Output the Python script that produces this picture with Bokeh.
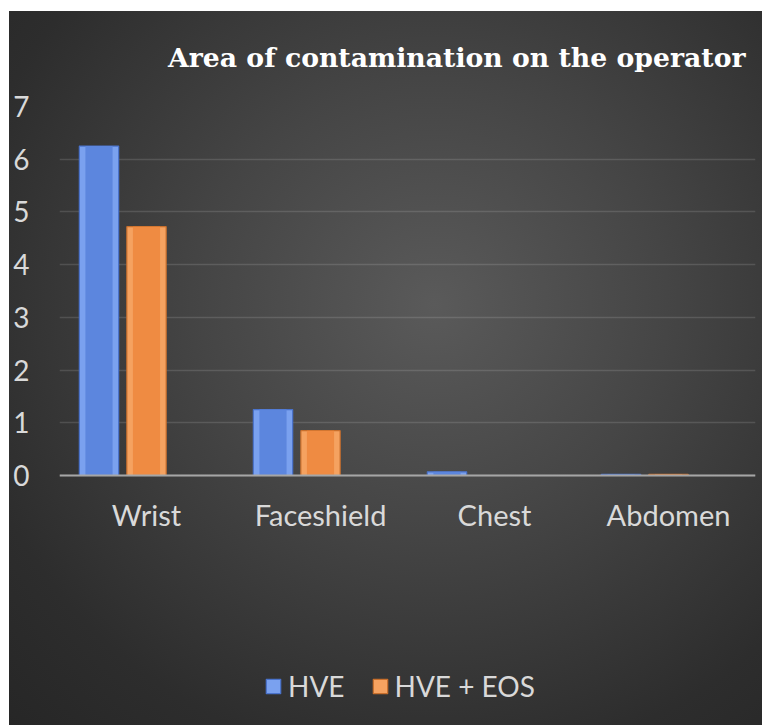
from bokeh.plotting import figure
from bokeh.models import Range1d, FactorRange, Legend, LegendItem, Title, ColumnDataSource, FixedTicker
from bokeh.transform import dodge
from bokeh.embed import file_html
from bokeh.resources import INLINE

categories = ["Wrist", "Faceshield", "Chest", "Abdomen"]
series = ["HVE", "HVE + EOS"]
hve = [6.25, 1.25, 0.07, 0.02]
hve_eos = [4.72, 0.85, 0.0, 0.02]
y_ticks = [0, 1, 2, 3, 4, 5, 6, 7]
title_text = "Area of contamination on the operator"

src = ColumnDataSource(dict(cat=categories, hve=hve, eos=hve_eos))

FONT = "Lato"
LABEL_COLOR = "#d9d9d9"

p = figure(width=762, height=725, output_backend="svg", toolbar_location=None,
           x_range=FactorRange(*categories, range_padding=0),
           y_range=Range1d(-4.743, 7),
           min_border_left=59, min_border_right=7, min_border_top=106, min_border_bottom=0)

p.background_fill_alpha = 0
p.border_fill_alpha = 0
p.outline_line_color = None
p.styles = {"background":
            "linear-gradient(to right, #ffffff 9px, transparent 9px), "
            "linear-gradient(to bottom, #ffffff 11px, transparent 11px), "
            "radial-gradient(ellipse farthest-corner at 57% 42%, #5a5a5a 0%, #454545 38%, #2d2d2d 78%, #262626 100%)"}

# bars (outer bevel + inner face)
r1 = p.vbar(x=dodge("cat", -0.273, range=p.x_range), top="hve", width=0.226, source=src,
            fill_color="#7aa1ef", line_color="#4a73cc", line_width=1.2)
p.vbar(x=dodge("cat", -0.273, range=p.x_range), top="hve", width=0.156, source=src,
       fill_color="#5c86de", line_color=None)
r2 = p.vbar(x=dodge("cat", 0.0, range=p.x_range), top="eos", width=0.226, source=src,
            fill_color="#f5a260", line_color="#c86f2c", line_width=1.2)
p.vbar(x=dodge("cat", 0.0, range=p.x_range), top="eos", width=0.156, source=src,
       fill_color="#ef8b42", line_color=None)

# axes
p.yaxis.ticker = FixedTicker(ticks=y_ticks)
p.yaxis.axis_line_color = None
p.yaxis.major_tick_line_color = None
p.yaxis.minor_tick_line_color = None
p.yaxis.major_label_standoff = 24
p.yaxis.major_label_text_font = FONT
p.yaxis.major_label_text_font_size = "28px"
p.yaxis.major_label_text_color = LABEL_COLOR

p.xaxis.fixed_location = 0
p.xaxis.axis_line_color = "#a6a6a6"
p.xaxis.axis_line_width = 2
p.xaxis.major_tick_line_color = None
p.xaxis.minor_tick_line_color = None
p.xaxis.major_label_standoff = 16
p.xaxis.major_label_text_font = FONT
p.xaxis.major_label_text_font_size = "29px"
p.xaxis.major_label_text_color = LABEL_COLOR

p.xgrid.grid_line_color = None
p.ygrid.grid_line_color = "#ffffff"
p.ygrid.grid_line_alpha = 0.13
p.ygrid.grid_line_width = 1.5

# title
t = Title(text=title_text, align="right", text_font="DejaVu Serif", text_font_style="bold",
          text_font_size="26.7px", text_color="#ffffff", standoff=68, offset=10)
p.add_layout(t, "above")

# legend
legend = Legend(items=[LegendItem(label=series[0], renderers=[r1]),
                       LegendItem(label=series[1], renderers=[r2])],
                orientation="horizontal", location=(205, 22),
                background_fill_alpha=0, border_line_color=None,
                label_text_font=FONT, label_text_font_size="28px", label_text_color=LABEL_COLOR,
                glyph_width=18, glyph_height=18, label_standoff=6, spacing=26, padding=0, margin=0)
p.add_layout(legend)

open("out.html", "w").write(file_html(p, INLINE))
